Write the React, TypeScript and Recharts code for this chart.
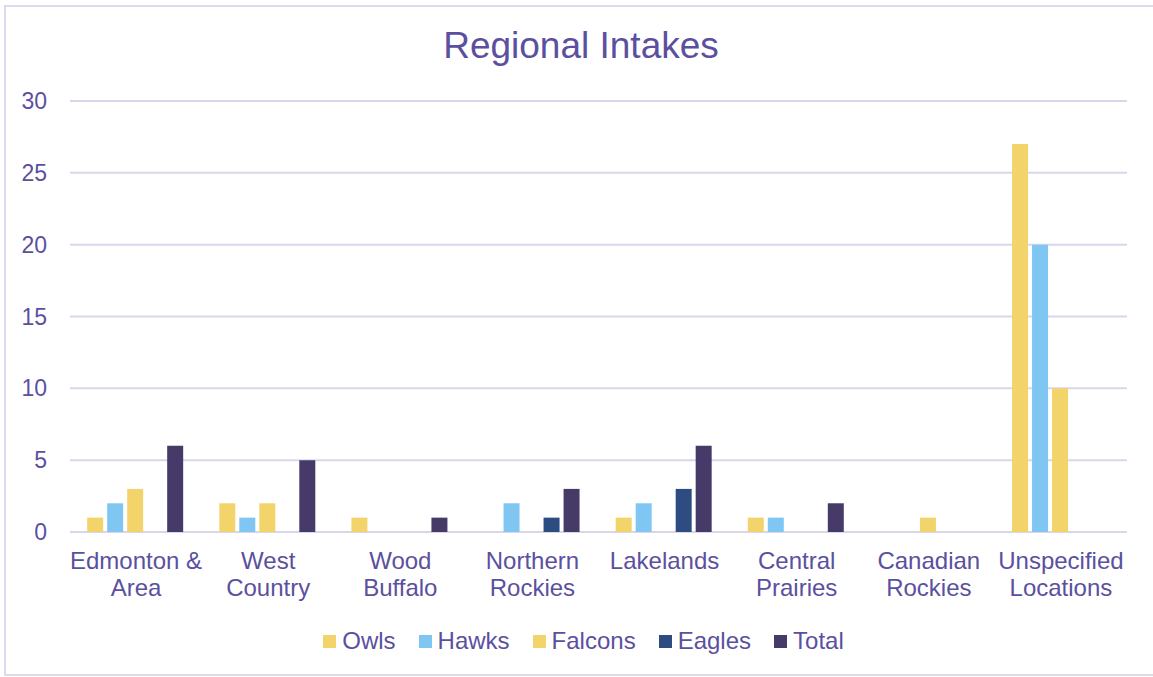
import React from "react";
import { BarChart, Bar, XAxis, YAxis, CartesianGrid, Legend } from "recharts";

const categories = [
  "Edmonton &\nArea",
  "West\nCountry",
  "Wood\nBuffalo",
  "Northern\nRockies",
  "Lakelands",
  "Central\nPrairies",
  "Canadian\nRockies",
  "Unspecified\nLocations",
];
const owls = [1, 2, 1, 0, 1, 1, 0, 27];
const hawks = [2, 1, 0, 2, 2, 1, 0, 20];
const falcons = [3, 2, 0, 0, 0, 0, 1, 10];
const eagles = [0, 0, 0, 1, 3, 0, 0, 0];
const total = [6, 5, 1, 3, 6, 2, 0, 0];
const yTicks = [0, 5, 10, 15, 20, 25, 30];

const seriesNames = ["Owls", "Hawks", "Falcons", "Eagles", "Total"];
const seriesColors = ["#F2D46B", "#7FC7F2", "#F2D46B", "#2C4C82", "#463A69"];
const seriesValues = [owls, hawks, falcons, eagles, total];

const data = categories.map((c, i) => {
  const row: Record<string, any> = { name: c };
  seriesNames.forEach((s, k) => {
    row[s] = seriesValues[k][i];
  });
  return row;
});

const TEXT = "#5B50A0";
const FONT = "'Liberation Sans', Arial, sans-serif";

const CatTick = (props: any) => {
  const { x, y, payload } = props;
  const lines = String(payload.value).split("\n");
  return (
    <text x={x} y={y} textAnchor="middle" fill={TEXT} fontSize={24} fontFamily={FONT}>
      {lines.map((l, i) => (
        <tspan key={i} x={x} dy={i === 0 ? 37 : 27}>
          {l}
        </tspan>
      ))}
    </text>
  );
};

const LegendContent = () => (
  <div
    style={{
      display: "flex",
      justifyContent: "center",
      alignItems: "center",
      fontFamily: FONT,
      fontSize: 24,
      color: TEXT,
      gap: 23,
      paddingLeft: 40,
    }}
  >
    {seriesNames.map((s, k) => (
      <div key={s} style={{ display: "flex", alignItems: "center" }}>
        <span
          style={{
            display: "inline-block",
            width: 13,
            height: 13,
            background: seriesColors[k],
            marginRight: 6,
          }}
        />
        <span>{s}</span>
      </div>
    ))}
  </div>
);

export default function App() {
  return (
    <div style={{ position: "absolute", left: 0, top: 0, width: 1153, height: 677, background: "#fff" }}>
      <div
        style={{
          position: "absolute",
          left: 4,
          top: 5,
          width: 1152,
          height: 671,
          border: "2px solid #DDDAF0",
          boxSizing: "border-box",
        }}
      />
      <div
        style={{
          position: "absolute",
          left: 0,
          top: 24,
          width: 1162,
          textAlign: "center",
          fontFamily: FONT,
          fontSize: 37,
          color: TEXT,
          lineHeight: "44px",
        }}
      >
        Regional Intakes
      </div>
      <div style={{ position: "absolute", left: 0, top: 0 }}>
        <BarChart
          width={1153}
          height={677}
          data={data}
          margin={{ top: 101, right: 26, left: 0, bottom: 55 }}
          barCategoryGap="13%"
          barGap={4}
        >
          <CartesianGrid vertical={false} stroke="#D9D6EC" strokeWidth={2} />
          <XAxis
            dataKey="name"
            axisLine={false}
            tickLine={false}
            tickSize={0}
            tickMargin={0}
            height={60}
            interval={0}
            tick={<CatTick />}
          />
          <YAxis
            domain={[0, 30]}
            ticks={yTicks}
            axisLine={false}
            tickLine={false}
            tickSize={0}
            tickMargin={23}
            width={70}
            tick={{ fill: TEXT, fontSize: 23, fontFamily: FONT }}
          />
          <Legend
            verticalAlign="bottom"
            height={30}
            wrapperStyle={{ top: 627 }}
            content={<LegendContent />}
          />
          {seriesNames.map((s, k) => (
            <Bar key={s} dataKey={s} fill={seriesColors[k]} isAnimationActive={false} />
          ))}
        </BarChart>
      </div>
    </div>
  );
}
